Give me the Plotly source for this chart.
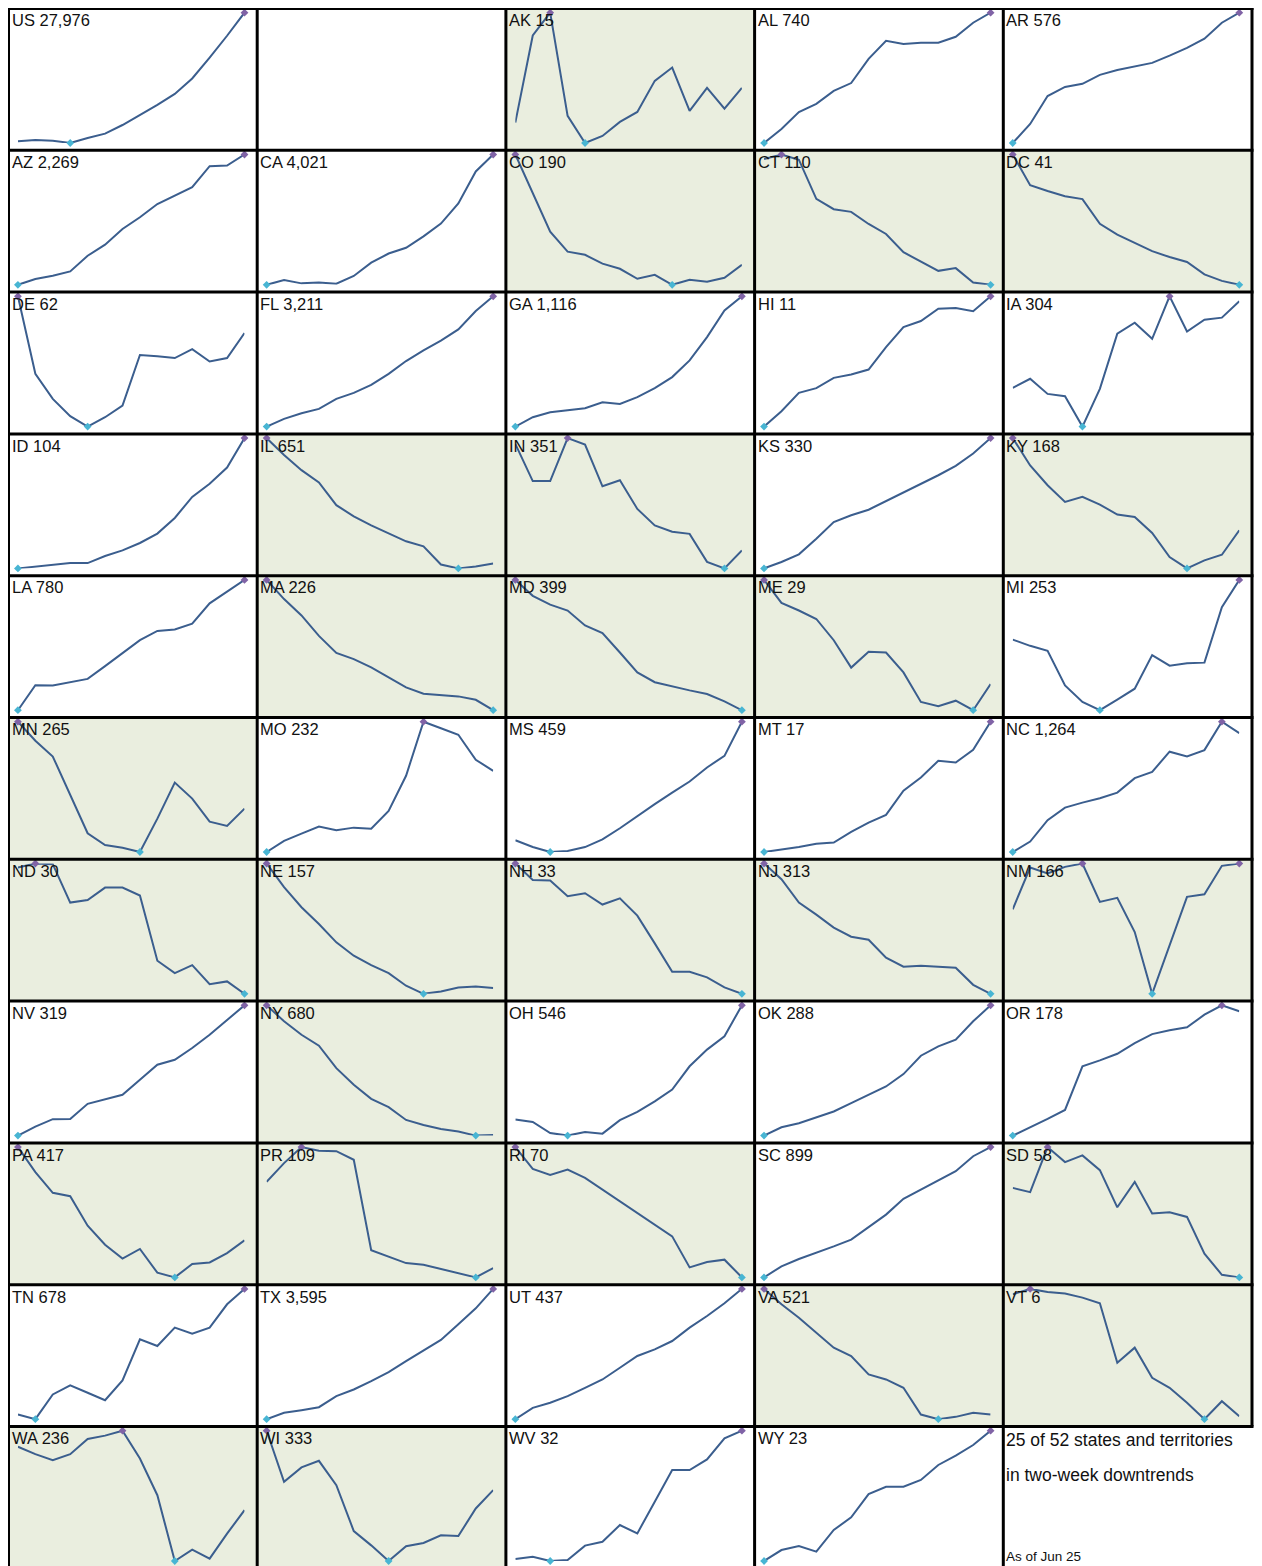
import plotly.graph_objects as go

# ---------------- data (index 0-100 of each state's 14-day range) ----
grid_codes = [
    ["US", "", "AK", "AL", "AR"],
    ["AZ", "CA", "CO", "CT", "DC"],
    ["DE", "FL", "GA", "HI", "IA"],
    ["ID", "IL", "IN", "KS", "KY"],
    ["LA", "MA", "MD", "ME", "MI"],
    ["MN", "MO", "MS", "MT", "NC"],
    ["ND", "NE", "NH", "NJ", "NM"],
    ["NV", "NY", "OH", "OK", "OR"],
    ["PA", "PR", "RI", "SC", "SD"],
    ["TN", "TX", "UT", "VA", "VT"],
    ["WA", "WI", "WV", "WY", "NOTE"],
]

label_codes = ["US", "AK", "AL", "AR", "AZ", "CA", "CO", "CT", "DC", "DE", "FL", "GA", "HI", "IA",
               "ID", "IL", "IN", "KS", "KY", "LA", "MA", "MD", "ME", "MI", "MN", "MO", "MS", "MT",
               "NC", "ND", "NE", "NH", "NJ", "NM", "NV", "NY", "OH", "OK", "OR", "PA", "PR", "RI",
               "SC", "SD", "TN", "TX", "UT", "VA", "VT", "WA", "WI", "WV", "WY"]
latest_values = [27976, 15, 740, 576, 2269, 4021, 190, 110, 41, 62, 3211, 1116, 11, 304,
                 104, 651, 351, 330, 168, 780, 226, 399, 29, 253, 265, 232, 459, 17,
                 1264, 30, 157, 33, 313, 166, 319, 680, 546, 288, 178, 417, 109, 70,
                 899, 58, 678, 3595, 437, 521, 6, 236, 333, 32, 23]

downtrend_codes = ["AK", "CO", "CT", "DC", "IL", "IN", "KY", "MA", "MD", "ME", "MN", "ND", "NE",
                   "NH", "NJ", "NM", "NY", "PA", "PR", "RI", "SD", "VA", "VT", "WA", "WI"]

note_lines = ["25 of 52 states and territories", "in two-week downtrends"]
note_date = "As of Jun 25"

v_US = [1.3, 2.3, 1.8, 0, 3.8, 7.2, 13.8, 21.5, 29.2, 37.7, 49.5, 65.6, 82.3, 100]
v_AK = [15.6, 82.5, 100, 20.8, 0, 5.4, 16.2, 23.8, 47.7, 57.9, 24.6, 42.3, 26.4, 42.3]
v_AL = [0, 10.8, 23.8, 30, 40, 46, 64.6, 78.5, 76, 77, 77, 81.5, 92.3, 100]
v_AR = [0, 14.6, 36, 43, 45.4, 52.3, 56, 59, 61.5, 67, 73, 80, 92.3, 100]
v_AZ = [0, 4.4, 6.9, 10.3, 22.3, 30.8, 42.8, 51.8, 62, 68.5, 75, 91, 91.5, 100]
v_CA = [0, 3.6, 1.1, 1.8, 0.9, 6.8, 17, 24, 28.4, 37.2, 47, 62.5, 87, 100]
v_CO = [100, 70, 40.8, 25.4, 23, 16.2, 12.3, 4.6, 7.7, 0, 3.8, 2.3, 5.4, 15.4]
v_CT = [96.5, 100, 96, 66, 58, 56, 46.7, 39, 25, 17.6, 10.7, 12.8, 1.8, 0]
v_DC = [100, 76.5, 72, 68, 65.8, 46.8, 38.5, 32, 25.8, 21.3, 17.5, 8, 3, 0]
v_DE = [100, 40.5, 21.3, 8, 0, 7.2, 16.2, 55, 54, 52.6, 59.5, 50, 52.6, 71.8]
v_FL = [0, 5.9, 10.3, 13.6, 21.3, 25.9, 32, 40.5, 50.3, 58.5, 66, 74.6, 88.7, 100]
v_GA = [0, 7.2, 11, 12.8, 14.1, 18.7, 17.4, 22.6, 29.5, 38, 50.8, 68.7, 89.2, 100]
v_HI = [0, 11.8, 25.9, 29.5, 37.4, 40, 43.8, 61, 76.4, 81, 90.5, 91, 88.5, 100]
v_IA = [29.7, 36.7, 25.1, 23.3, 0, 29, 71.3, 79.7, 67.4, 100, 73, 82, 83.6, 96.2]
v_ID = [0, 1.5, 2.8, 4.1, 4.1, 9.5, 13.8, 19.5, 26.7, 38.7, 54.9, 65, 77.4, 100]
v_IL = [100, 87, 75.4, 66, 48.5, 40, 33, 27, 20.8, 16.9, 3, 0, 1.5, 3.8]
v_IN = [95.5, 67, 67, 100, 95, 63, 67.7, 45.6, 33, 28.2, 26.5, 5, 0, 13.8]
v_KS = [0, 4.9, 10.8, 22.8, 35.6, 40.8, 45, 51.5, 58.2, 65, 71.5, 78.7, 88.2, 100]
v_KY = [100, 79, 63.8, 51, 55, 49, 41.3, 39.5, 27.2, 8.7, 0, 6.2, 10.5, 29.2]
v_LA = [0, 19.2, 19, 21.5, 24, 33.8, 44, 53.8, 60.8, 62, 66.4, 82, 91, 100]
v_MA = [100, 85.3, 72.7, 57, 44, 39.2, 32.9, 25, 17.5, 12.7, 11.4, 10.6, 8, 0]
v_MD = [100, 87.8, 81, 76.5, 65, 59.2, 44.3, 29, 21.5, 18.2, 15.2, 12.4, 6.8, 0]
v_ME = [100, 82.3, 76.5, 70, 53.7, 32.7, 44.8, 44.3, 29, 6.3, 3, 7.3, 0, 20]
v_MI = [54.2, 49.4, 45.6, 19, 6.3, 0, 8.1, 16.5, 42.3, 34.2, 36, 36.5, 79, 100]
v_MN = [100, 85.4, 73.3, 43.8, 14.4, 5.4, 3.3, 0, 25.6, 53.3, 41, 23.3, 20, 33.3]
v_MO = [0, 8.5, 14.1, 19.5, 16.7, 18.7, 17.9, 31.5, 58.5, 100, 95, 90, 70.8, 62.3]
v_MS = [9, 3.8, 0, 0.8, 3.8, 9.7, 18.2, 27.7, 36.7, 45.6, 54.1, 64.9, 73.8, 100]
v_MT = [0, 2, 3.8, 6.4, 7.2, 15.4, 22.6, 28.5, 47, 57.2, 70, 68.7, 78.5, 100]
v_NC = [0, 8, 24.4, 34.1, 37.9, 41.3, 45.6, 56.7, 61.5, 77, 73.3, 78.2, 100, 91.3]
v_ND = [97, 100, 99.5, 70, 72, 81.5, 81.5, 75.4, 25.4, 15.9, 22, 7.4, 9.5, 0]
v_NE = [100, 81.8, 66.4, 53.6, 39.5, 29.2, 22, 15.9, 6.2, 0, 1.8, 4.9, 5.6, 4.4]
v_NH = [100, 87.4, 87, 74.9, 77.2, 68.5, 73.3, 60, 38.7, 16.9, 16.9, 12.6, 4.9, 0]
v_NJ = [100, 88, 70, 60.8, 50.8, 43.8, 41.5, 27.7, 20.8, 21.5, 20.8, 20, 6.9, 0]
v_NM = [64.9, 96.9, 92.3, 97.4, 100, 70.5, 73.6, 47.4, 0, 37.2, 74.4, 76.4, 98.2, 100]
v_NV = [0, 6.9, 12.6, 12.8, 24.4, 27.9, 31.3, 42.8, 54.4, 58.2, 67.2, 77.4, 88.5, 100]
v_NY = [100, 87.7, 77.4, 69, 51.8, 39, 28.2, 21.8, 12, 8.2, 5.1, 3.1, 0, 0.5]
v_OH = [12.3, 10.5, 2, 0, 2.8, 1.5, 11.8, 18.2, 26.3, 35.3, 53.2, 66, 76.2, 100]
v_OK = [0, 6.4, 9.5, 14.1, 18.5, 24.9, 31.3, 37.7, 47.2, 61.3, 68.5, 73.6, 87.7, 100]
v_OR = [0, 6.2, 12.8, 19.7, 53.1, 57.7, 62.8, 71, 77.9, 80.8, 83.1, 92.8, 100, 95.4]
v_PA = [100, 80.8, 64.9, 62.3, 39.7, 25.1, 14.4, 21.8, 3.6, 0, 10.3, 11.5, 18.7, 28.5]
v_PR = [73.3, 87.7, 100, 97.2, 96.9, 90.3, 20.8, 15.6, 11, 9.7, 6.4, 3.3, 0, 7.2]
v_RI = [100, 83.3, 78.7, 82.8, 76.4, 67.4, 58.5, 49.5, 40.5, 31.5, 7.7, 11.8, 13.6, 0]
v_SC = [0, 8.5, 14.1, 18.7, 23.8, 29, 38.5, 48.2, 60.3, 67.4, 74.4, 81.5, 93, 100]
v_SD = [68.7, 65.4, 100, 88.5, 93.6, 82.3, 53.8, 73.3, 49, 50, 46.4, 18.2, 2, 0]
v_TN = [3.6, 0, 19, 25.9, 20.3, 14.6, 29.7, 61.3, 56.2, 70.3, 65.6, 70.3, 88.2, 100]
v_TX = [0, 4.9, 6.9, 9.2, 17.7, 22.8, 29.2, 36.2, 44.6, 52.8, 60.8, 72.8, 85.1, 100]
v_UT = [0, 8.7, 12.6, 17.7, 24.1, 30.5, 39.5, 48.5, 53.6, 60, 70.3, 79.2, 89, 100]
v_VA = [100, 88.2, 77.9, 66.4, 54.9, 48.5, 34.4, 30.5, 24.1, 3.6, 0, 1.8, 4.9, 3.6]
v_VT = [95.9, 100, 97.7, 96.4, 93.3, 89, 43.3, 54.9, 31.8, 24.1, 12.6, 0, 13.8, 2.3]
v_WA = [87.7, 82, 77.4, 82, 93.6, 96.2, 100, 78.7, 50.5, 0, 8.7, 1.8, 21, 39]
v_WI = [100, 60.8, 71.8, 76.9, 58.2, 23, 12, 0, 11.3, 13.8, 19.7, 19.2, 40.3, 54.4]
v_WV = [1.5, 3.3, 0, 0.8, 11.8, 14.8, 27.6, 21.2, 45.5, 69.8, 69.8, 78, 94.1, 100]
v_WY = [0, 8.4, 11.5, 7.2, 23.8, 33.5, 51.4, 57, 57, 62.2, 73.7, 80.8, 89, 100]

days = list(range(14))

# table built from the named arrays
series = {c: globals()["v_" + c] for c in label_codes}
latest = dict(zip(label_codes, latest_values))

# ---------------- styling / layout ----------------
W, H = 1254, 1558          # page body adds an 8px margin
COL0, COLW = 0.5, 248.7
ROW0, ROWH = 0.5, 141.8
FONT = "Liberation Sans, Arial, sans-serif"
LINE_C = "#3b5e8e"
MIN_C = "#48b5d3"
MAX_C = "#8063a6"
SHADE = "#eaeedf"
SX = COLW / 250.6

def px_x(v):
    return v / W

def px_y(v):
    return 1 - v / H

fig = go.Figure()
layout_axes = {}
shapes = []
annotations = []

k = 0
for r, row in enumerate(grid_codes):
    for c, code in enumerate(row):
        left = COL0 + c * COLW
        top = ROW0 + r * ROWH
        if code in downtrend_codes:
            shapes.append(dict(type="rect", xref="paper", yref="paper",
                               x0=px_x(left), x1=px_x(left + COLW),
                               y0=px_y(top + ROWH), y1=px_y(top),
                               fillcolor=SHADE, line=dict(width=0), layer="below"))
        if code in series:
            k += 1
            xa = "x" if k == 1 else f"x{k}"
            ya = "y" if k == 1 else f"y{k}"
            xkey = "xaxis" if k == 1 else f"xaxis{k}"
            ykey = "yaxis" if k == 1 else f"yaxis{k}"
            layout_axes[xkey] = dict(domain=[px_x(left + 9.5 * SX), px_x(left + 237.8 * SX)],
                                     range=[0, 13], visible=False, fixedrange=True, anchor=ya)
            layout_axes[ykey] = dict(domain=[px_y(top + 134.5), px_y(top + 4.2)], range=[0, 100],
                                     visible=False, fixedrange=True, anchor=xa)
            vals = series[code]
            vmax, vmin = max(vals), min(vals)
            fig.add_trace(go.Scatter(x=days, y=vals, mode="lines", xaxis=xa, yaxis=ya,
                                     line=dict(color=LINE_C, width=2), cliponaxis=False,
                                     hoverinfo="skip", showlegend=False))
            mx = [d for d, v in zip(days, vals) if v == vmax]
            my = [v for v in vals if v == vmax]
            nx = [d for d, v in zip(days, vals) if v == vmin]
            ny = [v for v in vals if v == vmin]
            fig.add_trace(go.Scatter(x=mx, y=my, mode="markers", xaxis=xa, yaxis=ya,
                                     marker=dict(color=MAX_C, size=6, symbol="diamond"),
                                     cliponaxis=False, hoverinfo="skip", showlegend=False))
            fig.add_trace(go.Scatter(x=nx, y=ny, mode="markers", xaxis=xa, yaxis=ya,
                                     marker=dict(color=MIN_C, size=6, symbol="diamond"),
                                     cliponaxis=False, hoverinfo="skip", showlegend=False))
            annotations.append(dict(xref="paper", yref="paper", x=px_x(left + 1.0),
                                    y=px_y(top + 0.8),
                                    xanchor="left", yanchor="top", showarrow=False,
                                    text=f"{code} {latest[code]:,}",
                                    font=dict(family=FONT, size=16.5, color="#111111")))
        elif code == "NOTE":
            for i, line in enumerate(note_lines):
                annotations.append(dict(xref="paper", yref="paper", x=px_x(left + 1.0),
                                        y=px_y(top + 1.8 + i * 35), xanchor="left", yanchor="top",
                                        showarrow=False, text=line,
                                        font=dict(family=FONT, size=17.5, color="#111111")))
            annotations.append(dict(xref="paper", yref="paper", x=px_x(left + 1.0),
                                    y=px_y(top + 120.5), xanchor="left", yanchor="top",
                                    showarrow=False, text=note_date,
                                    font=dict(family=FONT, size=13.5, color="#111111")))

# grid borders
n_rows = len(grid_codes)
last_top = ROW0 + (n_rows - 1) * ROWH
for c in range(6):
    x = COL0 + c * COLW
    y_end = H + 5 if c < 5 else last_top
    shapes.append(dict(type="line", xref="paper", yref="paper", x0=px_x(x), x1=px_x(x),
                       y0=px_y(ROW0 - 1.5), y1=px_y(y_end), line=dict(color="black", width=3)))
for r in range(n_rows):
    y = ROW0 + r * ROWH
    shapes.append(dict(type="line", xref="paper", yref="paper", x0=px_x(COL0 - 1.5),
                       x1=px_x(COL0 + 5 * COLW + 1.5), y0=px_y(y), y1=px_y(y),
                       line=dict(color="black", width=3)))

fig.update_layout(width=W, height=H, margin=dict(l=0, r=0, t=0, b=0),
                  paper_bgcolor="white", plot_bgcolor="rgba(0,0,0,0)",
                  shapes=shapes, annotations=annotations, showlegend=False, **layout_axes)

fig.write_html("out.html")
